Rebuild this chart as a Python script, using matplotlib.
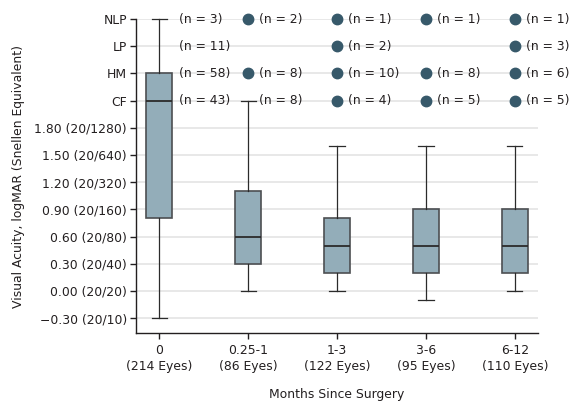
import matplotlib
matplotlib.use("Agg")
import matplotlib.pyplot as plt
import numpy as np

# ---- data ----
categories = ["0", "0.25-1", "1-3", "3-6", "6-12"]
eyes = [214, 86, 122, 95, 110]
whislo = [-0.30, 0.00, 0.00, -0.10, 0.00]
q1 = [0.80, 0.30, 0.20, 0.20, 0.20]
med = [2.10, 0.60, 0.50, 0.50, 0.50]
q3 = [2.40, 1.10, 0.80, 0.90, 0.90]
whishi = [3.00, 2.10, 1.60, 1.60, 1.60]

lv_labels = ["CF", "HM", "LP", "NLP"]
lv_values = [2.1, 2.4, 2.7, 3.0]
n_CF = [43, 8, 4, 5, 5]
n_HM = [58, 8, 10, 8, 6]
n_LP = [11, None, 2, None, 3]
n_NLP = [3, 2, 1, 1, 1]
dot_CF = [False, False, True, True, True]
dot_HM = [False, True, True, True, True]
dot_LP = [False, False, True, False, True]
dot_NLP = [False, True, True, True, True]

yticks = [-0.30, 0.00, 0.30, 0.60, 0.90, 1.20, 1.50, 1.80]
ytick_labels = ["\u22120.30 (20/10)", "0.00 (20/20)", "0.30 (20/40)", "0.60 (20/80)",
                "0.90 (20/160)", "1.20 (20/320)", "1.50 (20/640)", "1.80 (20/1280)"]

box_color = "#93adb9"
edge_color = "#4d4f52"
dot_color = "#37596a"
text_color = "#231f20"

plt.rcParams['font.family'] = ['DejaVu Sans']
FS = 8.9

fig = plt.figure(figsize=(5.70, 4.08), dpi=100)
ax = fig.add_axes([0.2386, 0.1838, 0.7053, 0.7695])

x = np.arange(len(categories))

for yy in yticks + lv_values:
    ax.axhline(yy, color="#e4e4e4", lw=1.2, zorder=0)

stats = []
for i in range(len(categories)):
    stats.append(dict(med=med[i], q1=q1[i], q3=q3[i], whislo=whislo[i], whishi=whishi[i], fliers=[]))
bp = ax.bxp(stats, positions=x, widths=0.3, capwidths=0.17, patch_artist=True, showfliers=False,
            boxprops=dict(facecolor=box_color, edgecolor=edge_color, linewidth=1.2),
            medianprops=dict(color="#2b2b2b", linewidth=1.3),
            whiskerprops=dict(color="#2b2b2b", linewidth=0.9),
            capprops=dict(color="#2b2b2b", linewidth=0.9))
for art in bp['whiskers'] + bp['caps'] + bp['boxes'] + bp['medians']:
    art.set_clip_on(False)
    art.set_zorder(3)

rows = [(n_CF, dot_CF, 2.1), (n_HM, dot_HM, 2.4), (n_LP, dot_LP, 2.7), (n_NLP, dot_NLP, 3.0)]
for counts, dots, yv in rows:
    for i, c in enumerate(counts):
        if c is None:
            continue
        if dots[i]:
            ax.plot(x[i], yv, 'o', color=dot_color, ms=7.5, clip_on=False, zorder=4)
        off = 0.22 if i == 0 else 0.12
        ax.text(x[i] + off, yv, f"(n = {c})", va="center", ha="left", fontsize=FS,
                color=text_color, zorder=5)

ax.set_xlim(-0.26, 4.26)
ax.set_ylim(-0.465, 3.0)
ax.set_xticks(x)
ax.set_xticklabels([f"{c}\n({e} Eyes)" for c, e in zip(categories, eyes)], fontsize=FS,
                   color=text_color, linespacing=1.3)
ax.set_yticks(yticks + lv_values)
ax.set_yticklabels(ytick_labels + lv_labels, fontsize=FS, color=text_color)

for s in ["top", "right"]:
    ax.spines[s].set_visible(False)
for s in ["left", "bottom"]:
    ax.spines[s].set_color("#231f20")
    ax.spines[s].set_linewidth(1.0)
ax.tick_params(axis="x", direction="out", length=4, width=1.0, color="#231f20", pad=4)
ax.tick_params(axis="y", direction="out", length=4, width=1.0, color="#231f20", pad=2.5)

ax.set_ylabel("Visual Acuity, logMAR (Snellen Equivalent)", fontsize=FS, color=text_color, labelpad=7)
ax.set_xlabel("Months Since Surgery", fontsize=FS, color=text_color, labelpad=11)

fig.savefig("out.png", dpi=100)
